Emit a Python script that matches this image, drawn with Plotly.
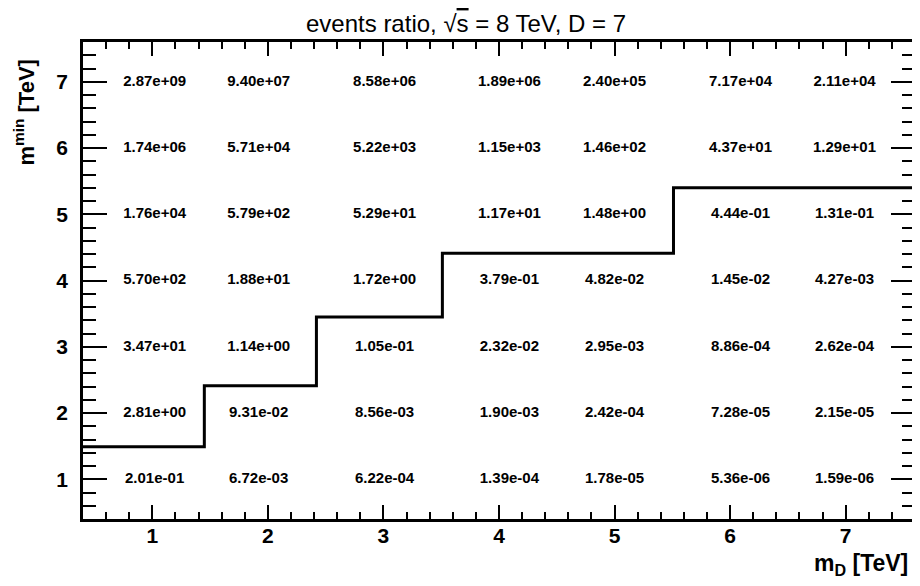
import plotly.graph_objects as go

# ---- data ----
md_centers = [1.02, 1.92, 3.01, 4.09, 5.00, 6.09, 6.99]   # text column centres (TeV)
mmin_rows = [1, 2, 3, 4, 5, 6, 7]                        # rows (TeV)
cell_values = {
    7: ["2.87e+09", "9.40e+07", "8.58e+06", "1.89e+06", "2.40e+05", "7.17e+04", "2.11e+04"],
    6: ["1.74e+06", "5.71e+04", "5.22e+03", "1.15e+03", "1.46e+02", "4.37e+01", "1.29e+01"],
    5: ["1.76e+04", "5.79e+02", "5.29e+01", "1.17e+01", "1.48e+00", "4.44e-01", "1.31e-01"],
    4: ["5.70e+02", "1.88e+01", "1.72e+00", "3.79e-01", "4.82e-02", "1.45e-02", "4.27e-03"],
    3: ["3.47e+01", "1.14e+00", "1.05e-01", "2.32e-02", "2.95e-03", "8.86e-04", "2.62e-04"],
    2: ["2.81e+00", "9.31e-02", "8.56e-03", "1.90e-03", "2.42e-04", "7.28e-05", "2.15e-05"],
    1: ["2.01e-01", "6.72e-03", "6.22e-04", "1.39e-04", "1.78e-05", "5.36e-06", "1.59e-06"],
}
step_edges = [0.4, 1.45, 2.42, 3.51, 5.51, 7.6]
step_levels = [1.49, 2.41, 3.45, 4.41, 5.40]

# ---- figure ----
xs, ys, txt = [], [], []
for r in mmin_rows:
    for c, v in zip(md_centers, cell_values[r]):
        xs.append(c); ys.append(r); txt.append(v)

fig = go.Figure()
fig.add_trace(go.Scatter(
    x=xs, y=ys, text=txt, mode="text",
    textfont=dict(family="Liberation Sans", size=15, color="black", weight="bold"),
    textposition="middle center", hoverinfo="skip", showlegend=False))
fig.add_trace(go.Scatter(
    x=step_edges, y=step_levels + [step_levels[-1]], mode="lines",
    line=dict(color="black", width=3, shape="hv"), hoverinfo="skip", showlegend=False))

axis_common = dict(
    showgrid=False, zeroline=False, showline=True, linecolor="black", linewidth=2.5,
    mirror="ticks", ticks="inside", tickcolor="black", tickwidth=1.5, automargin=False,
    tickfont=dict(family="Liberation Sans", size=21, color="black", weight="bold"),
)
fig.update_xaxes(range=[0.4, 7.6], tick0=1, dtick=1, ticklen=14, ticklabelstandoff=-4,
                 minor=dict(dtick=0.2, tick0=0.4, ticklen=7, ticks="inside", tickcolor="black", tickwidth=1.5),
                 **axis_common)
fig.update_yaxes(range=[0.4, 7.6], tick0=1, dtick=1, ticklen=24, ticklabelstandoff=8,
                 minor=dict(dtick=0.2, tick0=0.4, ticklen=13, ticks="inside", tickcolor="black", tickwidth=1.5),
                 **axis_common)

fig.update_layout(
    width=912, height=578,
    margin=dict(l=75, r=5, t=34, b=67),
    plot_bgcolor="white", paper_bgcolor="white",
    annotations=[
        dict(text="events ratio, √<span style='text-decoration:overline'>s</span> = 8 TeV, D = 7",
             xref="paper", yref="paper", x=0.46, y=1.038, xanchor="center", yanchor="middle",
             showarrow=False, font=dict(family="Liberation Sans", size=24, color="black")),
        dict(text="m<sub>D</sub> [TeV]", xref="paper", yref="paper", x=0.994, y=-0.096,
             xanchor="right", yanchor="middle", showarrow=False,
             font=dict(family="Liberation Sans", size=23, color="black", weight="bold")),
        dict(text="m<sup>min</sup> [TeV]", xref="paper", yref="paper", x=-0.071, y=0.852,
             xanchor="center", yanchor="middle", textangle=-90, showarrow=False,
             font=dict(family="Liberation Sans", size=22, color="black", weight="bold")),
    ],
)

fig.write_html("out.html")
